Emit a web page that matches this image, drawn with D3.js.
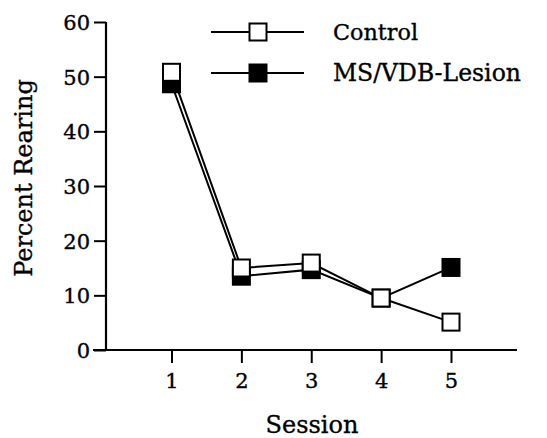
<!DOCTYPE html>
<html><head><meta charset="utf-8">
<script src="https://cdn.jsdelivr.net/npm/d3@7"></script>
<style>body{margin:0;background:#fff}svg{display:block}text{font-family:"DejaVu Serif",serif;fill:#000;stroke:#000;stroke-width:0.35px}</style>
</head><body><svg id="c" width="547" height="438"></svg>
<script>
const sessions = [1, 2, 3, 4, 5];
const control = [50.8, 15.0, 15.9, 9.5, 5.1];
const lesion = [48.7, 13.5, 14.7, 9.5, 15.1];
const yTicks = [0, 10, 20, 30, 40, 50, 60];
const seriesNames = ["Control", "MS/VDB-Lesion"];

const svg = d3.select("#c");
const x = d3.scaleLinear().domain([1, 5]).range([171.5, 451]);
const y = d3.scaleLinear().domain([0, 60]).range([350, 22]);

// axes
const yAx = svg.append("g").attr("transform", "translate(106,0)")
  .call(d3.axisLeft(y).tickValues(yTicks).tickSize(12).tickPadding(4).tickSizeOuter(0));
yAx.select(".domain").remove();
yAx.selectAll(".tick line").attr("stroke", "#000").attr("stroke-width", 2);
yAx.selectAll(".tick text").attr("font-size", 21).attr("font-family", "DejaVu Serif").attr("dy", "0.36em");

const xAx = svg.append("g").attr("transform", "translate(0,350)")
  .call(d3.axisBottom(x).tickValues(sessions).tickFormat(d3.format("d")).tickSize(13).tickPadding(10).tickSizeOuter(0));
xAx.select(".domain").remove();
xAx.selectAll(".tick line").attr("stroke", "#000").attr("stroke-width", 2);
xAx.selectAll(".tick text").attr("font-size", 21).attr("font-family", "DejaVu Serif");

svg.append("line").attr("x1", 106).attr("x2", 106).attr("y1", y(60)).attr("y2", y(0)).attr("stroke", "#000").attr("stroke-width", 2.2);
svg.append("line").attr("x1", 93).attr("x2", 517).attr("y1", y(0)).attr("y2", y(0)).attr("stroke", "#000").attr("stroke-width", 2.2);

// axis titles
svg.append("text").attr("x", 312).attr("y", 433).attr("text-anchor", "middle").attr("font-size", 24).text("Session");
svg.append("text").attr("transform", "translate(32,178) rotate(-90)").attr("text-anchor", "middle").attr("font-size", 24).text("Percent Rearing");

// lines
const line = d3.line().x((d, i) => x(sessions[i])).y(d => y(d));
[lesion, control].forEach(s => {
  svg.append("path").datum(s).attr("d", line).attr("fill", "none").attr("stroke", "#000").attr("stroke-width", 2);
});

const ms = 17;
function markers(data, fill) {
  svg.append("g").selectAll("rect").data(data).join("rect")
    .attr("x", (d, i) => x(sessions[i]) - ms / 2).attr("y", d => y(d) - ms / 2)
    .attr("width", ms).attr("height", ms)
    .attr("fill", fill).attr("stroke", "#000").attr("stroke-width", 2);
}
markers(lesion, "#000");
markers(control, "#fff");

// legend
const legY = [32, 73];
const legFill = ["#fff", "#000"];
seriesNames.forEach((n, i) => {
  const g = svg.append("g");
  g.append("line").attr("x1", 211).attr("x2", 304).attr("y1", legY[i]).attr("y2", legY[i]).attr("stroke", "#000").attr("stroke-width", 2);
  g.append("rect").attr("x", 258 - ms / 2).attr("y", legY[i] - ms / 2).attr("width", ms).attr("height", ms)
    .attr("fill", legFill[i]).attr("stroke", "#000").attr("stroke-width", 2);
  g.append("text").attr("x", 333).attr("y", legY[i]).attr("dy", "0.35em").attr("font-size", i === 0 ? 22.3 : 23.5).text(n);
});
</script></body></html>
